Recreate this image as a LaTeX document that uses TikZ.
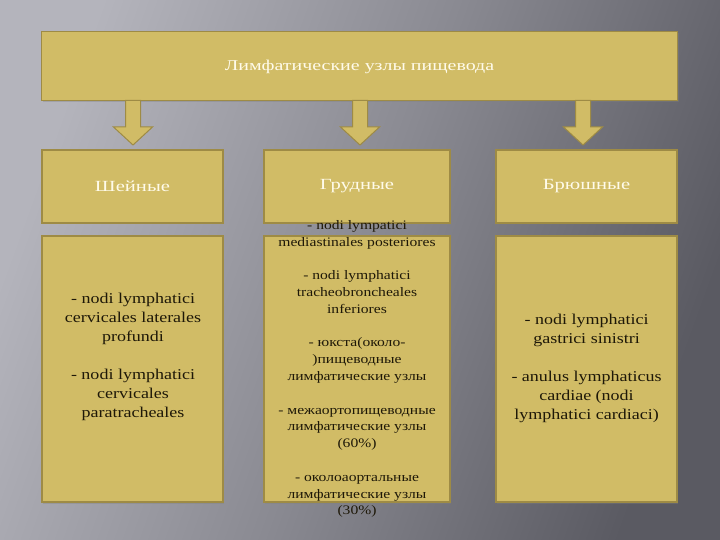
\documentclass[tikz,border=0pt]{standalone}
\usepackage{fontspec}
\setmainfont{Liberation Serif}
\newfontfamily\widefont{Liberation Serif}[FakeStretch=1.33]
\newfontfamily\bodyfont{Liberation Serif}[FakeStretch=1.2]
\usetikzlibrary{shadows,calc}
\definecolor{boxfill}{HTML}{D1BC66}
\definecolor{boxline}{HTML}{9E8B45}
\definecolor{bgL}{HTML}{B4B4BC}
\definecolor{bgM}{HTML}{8A8A92}
\definecolor{bgD}{HTML}{5A5A62}
\definecolor{txt}{HTML}{1E1808}
\definecolor{wtxt}{HTML}{FFFBEA}
\tikzset{
  goldbox/.style={draw=boxline, line width=1.1pt, fill=boxfill, rectangle, inner sep=0pt,
    drop shadow={opacity=0.35, shadow xshift=1pt, shadow yshift=-1.5pt}},
  fatarrow/.style={draw=boxline, line width=1pt, fill=boxfill, line join=miter},
  bodytext/.style={align=center, text=txt, inner sep=0pt},
  headtext/.style={align=center, text=wtxt, inner sep=0pt}
}
\begin{document}
\begin{tikzpicture}[x=1pt,y=-1pt]
\useasboundingbox (0,0) rectangle (720,540);
\shade[left color=bgL, right color=bgD, middle color=bgM, shading angle=70] (0,0) rectangle (720,540);

% top box
\node[goldbox, minimum width=636pt, minimum height=69pt] (top) at (359.5,66) {};
\node[headtext, font=\widefont\fontsize{15}{18}\selectfont] (toptext) at (359.5,67) {Лимфатические узлы пищевода};

% header boxes
\node[goldbox, minimum width=181pt, minimum height=73pt] (h1) at (132.5,186.5) {};
\node[goldbox, minimum width=186pt, minimum height=73pt] (h2) at (357,186.5) {};
\node[goldbox, minimum width=181pt, minimum height=73pt] (h3) at (586.5,186.5) {};
\node[headtext, font=\widefont\fontsize{15.5}{19}\selectfont] (h1t) at (h1) {Шейные};
\node[headtext, font=\widefont\fontsize{15.5}{19}\selectfont] (h2t) at (h2) {Грудные};
\node[headtext, font=\widefont\fontsize{15.5}{19}\selectfont] (h3t) at (h3) {Брюшные};

% arrows
\foreach \cx/\h in {133/h1, 360/h2, 583/h3}{
  \draw[fatarrow] (\cx-7.5,100.5) -- (\cx+7.5,100.5) -- (\cx+7.5,127) -- (\cx+19.5,127)
     -- (\cx,145) -- (\cx-19.5,127) -- (\cx-7.5,127) -- cycle;
}

% lower boxes
\node[goldbox, minimum width=181pt, minimum height=266pt] (b1) at (132.5,369) {};
\node[goldbox, minimum width=186pt, minimum height=266pt] (b2) at (357,369) {};
\node[goldbox, minimum width=181pt, minimum height=266pt] (b3) at (586.5,369) {};

\node[bodytext, font=\bodyfont\fontsize{15}{19}\selectfont] (b1t) at (133,357) {- nodi lymphatici\\cervicales laterales\\profundi\\[19pt]- nodi lymphatici\\cervicales\\paratracheales};

\node[bodytext, font=\bodyfont\fontsize{13}{16.8}\selectfont] (b2t) at (357,369) {- nodi lympatici\\mediastinales posteriores\\[16.8pt]- nodi lymphatici\\tracheobroncheales\\inferiores\\[16.8pt]- юкста(около-\\)пищеводные\\лимфатические узлы\\[16.8pt]- межаортопищеводные\\лимфатические узлы\\(60\%)\\[16.8pt]- околоаортальные\\лимфатические узлы\\(30\%)};

\node[bodytext, font=\bodyfont\fontsize{15}{19}\selectfont] (b3t) at (586.5,368) {- nodi lymphatici\\gastrici sinistri\\[19pt]- anulus lymphaticus\\cardiae (nodi\\lymphatici cardiaci)};
\end{tikzpicture}
\end{document}
